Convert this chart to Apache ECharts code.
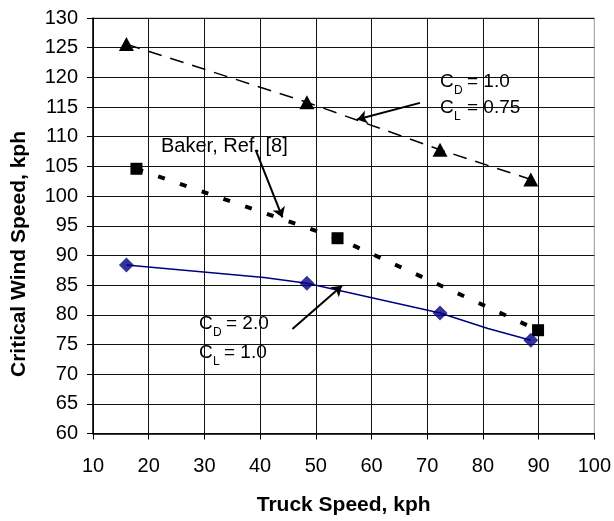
<!DOCTYPE html>
<html>
<head>
<meta charset="utf-8">
<script src="https://cdn.jsdelivr.net/npm/echarts@6/dist/echarts.min.js"></script>
<style>
html,body{margin:0;padding:0;background:#fff;}
#chart{width:614px;height:521px;}
</style>
</head>
<body>
<div id="chart"></div>
<script>
// ---- data ----
const xAxisMin = 10, xAxisMax = 100, xAxisStep = 10;
const yAxisMin = 60, yAxisMax = 130, yAxisStep = 5;

// C_D = 1.0, C_L = 0.75 (triangles, dashed)
const triangleX = [16.0, 48.4, 72.3, 88.6];
const triangleY = [125.6, 115.8, 107.8, 102.8];

// Baker, Ref. [8] (squares, dotted)
const bakerX = [17.8, 53.9, 89.9];
const bakerY = [104.6, 92.9, 77.4];

// C_D = 2.0, C_L = 1.0 (diamonds, blue line)
const diamondX = [16.0, 48.4, 72.3, 88.6];
const diamondY = [88.4, 85.3, 80.3, 75.7];
const blueLineX = [16.0, 40.7, 48.4, 72.3, 80.9, 88.6];
const blueLineY = [88.4, 86.3, 85.3, 80.3, 77.7, 75.7];

// annotation arrows in data coordinates: [fromX, fromY, toX, toY]
const arrowCD1 = [68.7, 115.7, 57.4, 112.9];
const arrowBaker = [39.2, 107.8, 44.0, 96.4];
const arrowCD2 = [45.8, 77.6, 54.7, 84.9];

const zip = (xs, ys) => xs.map((x, i) => [x, ys[i]]);

const FONT = '"Liberation Sans", Arial, Helvetica, sans-serif';

function arrowMark(a) {
  return {
    silent: true,
    animation: false,
    symbol: ['none', 'arrow'],
    symbolSize: 10,
    label: { show: false },
    emphasis: { disabled: true },
    itemStyle: { color: '#000' },
    lineStyle: { color: '#000', width: 2, type: 'solid' },
    data: [[{ coord: [a[0], a[1]] }, { coord: [a[2], a[3]] }]]
  };
}

// text helper: place by baseline
function txt(x, baseline, text, size, weight) {
  return {
    type: 'text',
    x: x,
    y: baseline - 0.8465 * size,
    silent: true,
    style: {
      text: text,
      fontFamily: FONT,
      fontSize: size,
      fontWeight: weight || 'normal',
      fill: '#000',
      align: 'left',
      verticalAlign: 'top'
    }
  };
}
function subLabel(x, base, main, sub, rest, restX) {
  return [
    txt(x, base, main, 19),
    txt(x + 14, base + 6.5, sub, 12),
    txt(restX, base, rest, 19)
  ];
}

const graphics = [].concat(
  subLabel(440, 88.5, 'C', 'D', '= 1.0', 467),
  subLabel(440, 114, 'C', 'L', '= 0.75', 467),
  [txt(161, 153, 'Baker, Ref. [8]', 20)],
  subLabel(199, 330, 'C', 'D', '= 2.0', 226),
  subLabel(199, 359.5, 'C', 'L', '= 1.0', 224),
  [{
    type: 'text',
    x: 19,
    y: 254,
    rotation: Math.PI / 2,
    silent: true,
    style: {
      text: 'Critical Wind Speed, kph',
      fontFamily: FONT,
      fontSize: 21,
      fontWeight: 'bold',
      fill: '#000',
      align: 'center',
      verticalAlign: 'middle'
    }
  }]
);

const chart = echarts.init(document.getElementById('chart'), null, { renderer: 'canvas' });
chart.setOption({
  animation: false,
  backgroundColor: '#fff',
  grid: {
    left: 93, right: 17, top: 18, bottom: 85,
    show: true, borderColor: '#999', borderWidth: 1, backgroundColor: 'transparent'
  },
  xAxis: {
    type: 'value',
    min: xAxisMin, max: xAxisMax, interval: xAxisStep,
    name: 'Truck Speed, kph',
    nameLocation: 'middle',
    nameGap: 61.5,
    nameTextStyle: { fontFamily: FONT, fontSize: 21, fontWeight: 'bold', color: '#000' },
    axisLine: { show: true, onZero: false, lineStyle: { color: '#000', width: 1.5 } },
    axisTick: { show: true, length: 6, lineStyle: { color: '#000', width: 1 } },
    axisLabel: { margin: 23, fontFamily: FONT, fontSize: 20, color: '#000' },
    splitLine: { show: true, showMaxLine: false, lineStyle: { color: '#111', width: 1 } }
  },
  yAxis: {
    type: 'value',
    min: yAxisMin, max: yAxisMax, interval: yAxisStep,
    axisLine: { show: true, onZero: false, lineStyle: { color: '#000', width: 1.5 } },
    axisTick: { show: true, length: 6, lineStyle: { color: '#000', width: 1 } },
    axisLabel: { margin: 15, fontFamily: FONT, fontSize: 20, color: '#000' },
    splitLine: { show: true, lineStyle: { color: '#111', width: 1 } }
  },
  series: [
    {
      type: 'line',
      name: 'C_D = 1.0, C_L = 0.75',
      data: zip(triangleX, triangleY),
      symbol: 'triangle',
      symbolSize: [15, 14],
      showAllSymbol: true,
      itemStyle: { color: '#000' },
      lineStyle: { color: '#000', width: 1.5, type: [14, 9] },
      emphasis: { disabled: true },
      z: 3,
      markLine: arrowMark(arrowCD1)
    },
    {
      type: 'line',
      name: 'Baker, Ref. [8]',
      data: zip(bakerX, bakerY),
      symbol: 'rect',
      symbolSize: 12,
      showAllSymbol: true,
      itemStyle: { color: '#000' },
      lineStyle: { color: '#000', width: 4, type: [7, 16], cap: 'butt' },
      emphasis: { disabled: true },
      z: 3,
      markLine: arrowMark(arrowBaker)
    },
    {
      type: 'line',
      name: 'C_D = 2.0, C_L = 1.0 line',
      data: zip(blueLineX, blueLineY),
      symbol: 'none',
      showSymbol: false,
      lineStyle: { color: '#000080', width: 1.5 },
      emphasis: { disabled: true },
      z: 3,
      markLine: arrowMark(arrowCD2)
    },
    {
      type: 'scatter',
      name: 'C_D = 2.0, C_L = 1.0',
      data: zip(diamondX, diamondY),
      symbol: 'diamond',
      symbolSize: 15,
      itemStyle: { color: '#000080' },
      emphasis: { disabled: true },
      z: 4
    }
  ],
  graphic: graphics
});
</script>
</body>
</html>
